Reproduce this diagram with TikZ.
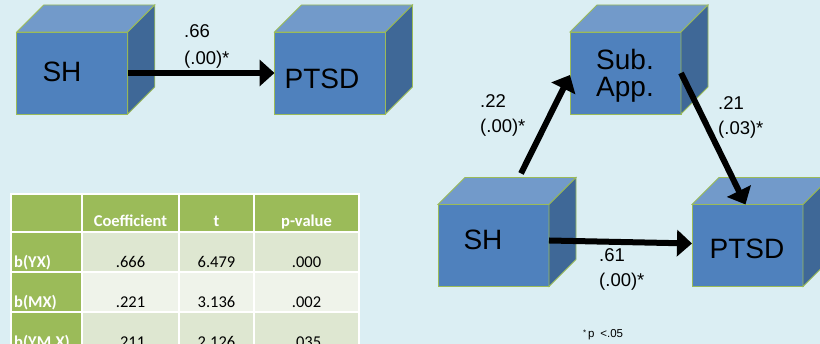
\documentclass[tikz,border=0pt]{standalone}
\usepackage{fontspec}
\setmainfont{Liberation Sans}
\newfontfamily\calib{Carlito}
\usetikzlibrary{arrows.meta}
\definecolor{bg}{HTML}{DBEEF3}
\definecolor{frontc}{HTML}{4F81BD}
\definecolor{topc}{HTML}{729ACA}
\definecolor{sidec}{HTML}{3F6897}
\definecolor{edgec}{HTML}{9BBB59}
\definecolor{hdr}{HTML}{9BBB59}
\definecolor{rowa}{HTML}{DEE7D1}
\definecolor{rowb}{HTML}{EFF3EA}
\newcommand\cubebox[3]{%
  \node[face] (#1) at (#2,#3) {};
  \filldraw[fill=topc, draw=edgec, line width=0.8pt] (#1.north west) -- ([shift={(27,27)}]#1.north west) -- ([shift={(27,27)}]#1.north east) -- (#1.north east) -- cycle;
  \filldraw[fill=sidec, draw=edgec, line width=0.8pt] (#1.north east) -- ([shift={(27,27)}]#1.north east) -- ([shift={(27,27)}]#1.south east) -- (#1.south east) -- cycle;
}
\begin{document}
\begin{tikzpicture}[x=1pt,y=1pt,
  face/.style={rectangle, minimum width=111pt, minimum height=82pt, inner sep=0pt, outer sep=0pt, fill=frontc, draw=edgec, line width=0.8pt},
  big/.style={font=\fontsize{28}{31}\selectfont, inner sep=0pt},
  lab/.style={font=\fontsize{18.5}{21}\selectfont, anchor=base west, inner sep=0pt},
  conn/.style={line width=6pt, -{Triangle[length=15pt,width=26pt]}},
  th/.style={font=\calib\bfseries\fontsize{16.5}{18}\selectfont, text=white, anchor=base, inner sep=0pt},
  td/.style={font=\calib\fontsize{16.5}{18}\selectfont, anchor=base, inner sep=0pt},
  rh/.style={font=\calib\bfseries\fontsize{16.5}{18}\selectfont, text=white, anchor=base west, inner sep=0pt}]
\useasboundingbox (0,0) rectangle (820,344);
\fill[bg] (0,0) rectangle (820,344);
\clip (0,0) rectangle (820,344);

% cubes
\cubebox{sha}{72.3}{271}
\cubebox{ptsda}{330}{271}
\cubebox{sub}{625.5}{271}
\cubebox{shb}{493.5}{98.5}
\cubebox{ptsdb}{747.5}{98.5}

\node[big] (tsha) at (62,272) {SH};
\node[big] (tptsda) at (322,265) {PTSD};
\node[big] (tsub) at (625,284) {Sub.};
\node[big] (tapp) at (625,254) {App.};
\node[big] (tshb) at (483,104) {SH};
\node[big] (tptsdb) at (747,95) {PTSD};

% connectors
\draw[conn] (sha) -- (ptsda);
\draw[conn] ([yshift=5pt]shb.east) -- ([yshift=2pt]ptsdb.west);
\draw[conn] ([shift={(27.5,31)}]shb.north) -- ([yshift=-2pt]sub.west);
\draw[conn] (sub.east) -- ([xshift=-2pt]ptsdb.north);

% path labels
\node[lab] (l1a) at (184,306.7) {.66};
\node[lab] (l1b) at (184,279) {(.00)*};
\node[lab] (l2a) at (480,236) {.22};
\node[lab] (l2b) at (480,211) {(.00)*};
\node[lab] (l3a) at (718,234) {.21};
\node[lab] (l3b) at (718,209) {(.03)*};
\node[lab] (l4a) at (599,82) {.61};
\node[lab] (l4b) at (599,57) {(.00)*};
\node[anchor=base west, inner sep=0pt, font=\fontsize{11.5}{13}\selectfont] (fn) at (583,6) {\raisebox{2.5pt}{\fontsize{8}{9}\selectfont *}\,p\enspace<.05};

% table
\fill[hdr] (11,112) rectangle (359,150);
\fill[hdr] (11,-8) rectangle (82,112);
\fill[rowa] (82,72) rectangle (359,112);
\fill[rowb] (82,32) rectangle (359,72);
\fill[rowa] (82,-8) rectangle (359,32);
\draw[white, line width=2pt] (11,-8) rectangle (359,150);
\foreach \yy in {112,72,32} \draw[white, line width=2pt] (11,\yy) -- (359,\yy);
\foreach \xx in {82,179,254} \draw[white, line width=2pt] (\xx,-8) -- (\xx,150);

\node[th] (h1) at (130.5,117) {Coefficient};
\node[th] (h2) at (216.5,117) {t};
\node[th] (h3) at (306.5,117) {p-value};

\node[rh] (r1) at (14,76) {b(YX)};
\node[td] (c11) at (130.5,76) {.666};
\node[td] (c12) at (216.5,76) {6.479};
\node[td] (c13) at (306.5,76) {.000};

\node[rh] (r2) at (14,36) {b(MX)};
\node[td] (c21) at (130.5,36) {.221};
\node[td] (c22) at (216.5,36) {3.136};
\node[td] (c23) at (306.5,36) {.002};

\node[rh] (r3) at (14,-4) {b(YM.X)};
\node[td] (c31) at (130.5,-4) {.211};
\node[td] (c32) at (216.5,-4) {2.126};
\node[td] (c33) at (306.5,-4) {.035};
\end{tikzpicture}
\end{document}
